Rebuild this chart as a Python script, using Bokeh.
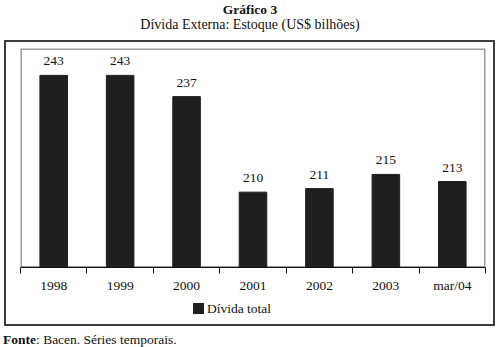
from bokeh.plotting import figure
from bokeh.models import (Range1d, FixedTicker, ColumnDataSource, Div)
from bokeh.layouts import column
from bokeh.embed import file_html
from bokeh.resources import INLINE

# ---- data ----
categories = ["1998", "1999", "2000", "2001", "2002", "2003", "mar/04"]
divida_total = [243, 243, 237, 210, 211, 215, 213]
value_labels = ["243", "243", "237", "210", "211", "215", "213"]
title_text = "Gráfico 3"
subtitle_text = "Dívida Externa: Estoque (US$ bilhões)"
series_name = "Dívida total"
source_bold = "Fonte"
source_rest = ": Bacen. Séries temporais."

FONT = "Liberation Serif"
FS = "13.5px"
BAR_COLOR = "#1f1f1f"
Y0, Y1 = 188.7, 250.6
n = len(categories)
xs = [i + 0.5 for i in range(n)]
src = ColumnDataSource(dict(x=xs, top=divida_total, lab=value_labels))

title_div = Div(
    text=(f"<div style='font-family:\"{FONT}\";font-size:13.5px;line-height:15px;"
          f"color:#111;text-align:center;width:500px;padding-top:2px'>"
          f"<b>{title_text}</b><br><span style='font-size:14px'>{subtitle_text}</span></div>"),
    width=500, height=40, margin=(0, 0, 0, 0))

p = figure(width=487, height=255, output_backend="svg", toolbar_location=None,
           x_range=Range1d(0, n), y_range=Range1d(Y0, Y1),
           min_border_left=14, min_border_right=8, min_border_top=6, min_border_bottom=30,
           margin=(0, 0, 0, 0))
p.background_fill_color = "white"
p.border_fill_color = "white"
p.outline_line_color = None
p.grid.visible = False
p.yaxis.visible = False

# gray plot-area frame
p.quad(left=[0], right=[n], bottom=[Y0], top=[Y1], fill_color=None,
       line_color="#9a9a9a", line_width=3)

bars = p.vbar(x="x", top="top", bottom=Y0, width=0.415, source=src,
              fill_color=BAR_COLOR, line_color=BAR_COLOR, legend_label=series_name)
p.legend.visible = False
p.text(x="x", y="top", text="lab", source=src, text_align="center",
       text_baseline="bottom", y_offset=-10, text_font={"value": FONT},
       text_font_size=FS, text_color="#111111")

ax = p.xaxis[0]
ax.ticker = FixedTicker(ticks=xs, minor_ticks=list(range(n + 1)))
ax.major_label_overrides = {x: c for x, c in zip(xs, categories)}
ax.major_tick_line_color = None
ax.major_tick_out = 0
ax.major_tick_in = 0
ax.minor_tick_out = 6
ax.minor_tick_in = 0
ax.minor_tick_line_color = "#111111"
ax.axis_line_color = "#111111"
ax.axis_line_width = 1.2
ax.major_label_standoff = 4
ax.major_label_text_font = FONT
ax.major_label_text_font_size = FS
ax.major_label_text_color = "#111111"

legend_div = Div(
    text=(f"<div style='font-family:\"{FONT}\";font-size:13.5px;line-height:16px;"
          f"color:#111;padding-left:187px;padding-top:4px;white-space:nowrap'>"
          f"<span style='display:inline-block;width:11px;height:11px;"
          f"background:{BAR_COLOR};vertical-align:-1px;margin-right:3px'></span>"
          f"{series_name}</div>"),
    width=487, height=27, margin=(0, 0, 0, 0))

box = column(p, legend_div, margin=(0, 0, 0, 4), spacing=0,
             styles={"border": "2px solid #3c3c3c"})

fonte_div = Div(
    text=(f"<div style='font-family:\"{FONT}\";font-size:13.5px;line-height:16px;"
          f"color:#111;padding-left:3px;padding-top:6px;white-space:nowrap'>"
          f"<b>{source_bold}</b>{source_rest}</div>"),
    width=500, height=21, margin=(0, 0, 0, 0))

layout = column(title_div, box, fonte_div, spacing=0)
open("out.html", "w").write(file_html(layout, INLINE))
